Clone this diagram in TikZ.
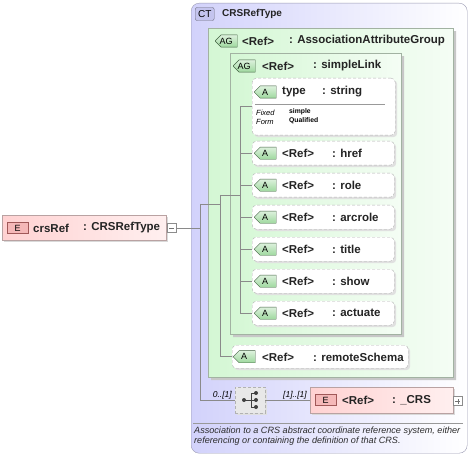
\documentclass[tikz,border=0pt]{standalone}
\usepackage{fontspec}
\setmainfont{Liberation Sans}
\usetikzlibrary{positioning,shapes.misc,shadows}

\definecolor{ctback}{HTML}{D2D2FB}
\definecolor{ctline}{HTML}{9A9AB2}
\definecolor{ctbadge}{HTML}{C4C4EE}
\definecolor{agback}{HTML}{D4F7D4}
\definecolor{agline}{HTML}{A2B2A2}
\definecolor{elback}{HTML}{FFD2D2}
\definecolor{elline}{HTML}{B9A2A2}
\definecolor{badgeE}{HTML}{F5B8B8}
\definecolor{badgeEline}{HTML}{A05858}
\definecolor{badgeA}{HTML}{9ED89E}
\definecolor{badgeAline}{HTML}{406040}
\definecolor{conn}{HTML}{8A8A8A}
\definecolor{dashline}{HTML}{B2B2B2}
\definecolor{doctext}{HTML}{2C2C2C}
\definecolor{lbltext}{HTML}{242424}

\begin{document}
\begin{tikzpicture}[x=1pt,y=-1pt,
    conn/.style={draw=conn,line width=0.8pt},
    lbl/.style={anchor=west,inner sep=0pt,text=lbltext,font=\fontsize{11.5}{13}\selectfont\bfseries},
    title/.style={anchor=west,inner sep=0pt,text=lbltext,font=\fontsize{10}{12}\selectfont\bfseries},
    ctbox/.style={draw=ctline,rounded corners=8pt,left color=ctback,right color=white,
      anchor=north west,inner sep=0pt},
    agbox/.style={chamfered rectangle,chamfered rectangle corners={north west,south west},
      chamfered rectangle xsep=5pt,chamfered rectangle ysep=5pt,draw=agline,
      left color=agback,right color=agback!25!white,anchor=north west,inner sep=0pt,
      general shadow={fill=black!22,shadow xshift=3pt,shadow yshift=-3pt}},
    attrbox/.style={draw=dashline,dash pattern=on 3pt off 2pt,rounded corners=4pt,fill=white,
      anchor=north west,inner sep=0pt,
      general shadow={fill=black!12,shadow xshift=2pt,shadow yshift=-2pt}},
    elbox/.style={draw=elline,left color=elback,right color=elback!35!white,
      anchor=north west,inner sep=0pt,
      general shadow={fill=black!15,shadow xshift=2pt,shadow yshift=-2pt}},
    seqbox/.style={draw=dashline,dash pattern=on 3pt off 2pt,fill=black!9,
      anchor=north west,inner sep=0pt,
      general shadow={fill=black!12,shadow xshift=2pt,shadow yshift=-2pt}},
    ebadge/.style={draw=badgeEline,fill=badgeE,minimum width=21pt,minimum height=11pt,
      inner sep=0pt,anchor=west,font=\fontsize{9}{9}\selectfont},
    abadge/.style={chamfered rectangle,chamfered rectangle corners={north west,south west},
      chamfered rectangle xsep=3pt,chamfered rectangle ysep=3pt,draw=badgeAline,
      top color=badgeA!35!white,bottom color=badgeA,minimum width=22pt,minimum height=11pt,
      inner sep=0pt,anchor=west,font=\fontsize{9}{9}\selectfont},
    ctbadge/.style={draw=ctline!70!black,fill=ctbadge,rounded corners=2pt,minimum width=19pt,
      minimum height=13pt,inner sep=0pt,anchor=west,font=\fontsize{10}{10}\selectfont},
    button/.style={draw=black!45,fill=white,minimum size=9pt,inner sep=0pt,anchor=west},
    sepline/.style={draw=black!40,line width=0.6pt},
    mult/.style={inner sep=0pt,anchor=east,font=\fontsize{8.5}{9}\selectfont\itshape},
    fixed/.style={inner sep=0pt,anchor=west,font=\fontsize{7.5}{8}\selectfont\itshape},
    fixval/.style={inner sep=0pt,anchor=west,font=\fontsize{6.8}{7}\selectfont\bfseries},
    doc/.style={inner sep=0pt,anchor=west,text=doctext,font=\fontsize{9.1}{10}\selectfont\itshape}]
    \useasboundingbox (0,0) rectangle (471,457);

    % complex type CRSRefType
    \node[ctbox,minimum width=276pt,minimum height=450pt] (ct) at (191,3) {};
    \node[ctbadge] (ct-b) at (195,14) {CT};
    \node[title] (ct-name) at (222,14) {CRSRefType};
    \draw[sepline] (193,423) -- (463,423);
    \node[doc] (doc1) at (194,431) {Association to a CRS abstract coordinate reference system, either};
    \node[doc] (doc2) at (194,441) {referencing or containing the definition of that CRS.};

    % attribute groups
    \node[agbox,minimum width=245pt,minimum height=349pt] (ag) at (208,28) {};
    \node[abadge] (ag-b) at (215,41) {AG};
    \node[lbl] (ag-ref) at (242,41) {<Ref>};
    \node[lbl] (ag-name) at (289,41) {: AssociationAttributeGroup};

    \node[agbox,minimum width=171pt,minimum height=281pt] (sl) at (230,53) {};
    \node[abadge] (sl-b) at (233,66) {AG};
    \node[lbl] (sl-ref) at (262,66) {<Ref>};
    \node[lbl] (sl-name) at (313,66) {: simpleLink};

    % attribute type with fixed value
    \node[attrbox,minimum width=143pt,minimum height=57pt] (type) at (252,78) {};
    \node[abadge] (type-b) at (254,92) {A};
    \node[lbl] (type-ref) at (282,92) {type};
    \node[lbl] (type-name) at (322,92) {: string};
    \draw[sepline] (255,104) -- (385,104);
    \node[fixed] (type-f1) at (256,113) {Fixed};
    \node[fixed] (type-f2) at (256,122) {Form};
    \node[fixval] (type-v1) at (289,112) {simple};
    \node[fixval] (type-v2) at (289,121) {Qualified};

    % the other simpleLink attributes
    \foreach \nm [count=\i from 0] in {href,role,arcrole,title,show,actuate}{
      \pgfmathsetmacro\yy{141+32*\i}
      \node[attrbox,minimum width=142pt,minimum height=24pt] (\nm) at (252,\yy) {};
      \node[abadge] (\nm-b) at ([xshift=2pt]\nm.west) {A};
      \node[lbl] (\nm-ref) at (282,\yy+12) {<Ref>};
      \node[lbl] (\nm-name) at (332,\yy+12) {: \nm};
    }

    \node[attrbox,minimum width=176pt,minimum height=23pt] (remote) at (232,345) {};
    \node[abadge] (remote-b) at ([xshift=1pt]remote.west) {A};
    \node[lbl] (remote-ref) at (262,357) {<Ref>};
    \node[lbl] (remote-name) at (313,357) {: remoteSchema};

    % element crsRef
    \node[elbox,minimum width=164pt,minimum height=25pt] (crsref) at (2,215) {};
    \node[ebadge] (crsref-b) at (7,228) {E};
    \node[lbl] (crsref-name) at (33,228) {crsRef};
    \node[lbl] (crsref-type) at (83,228) {: CRSRefType};
    \node[button] (minus) at (167,228) {};
    \draw[black!55] ([xshift=-2.5pt]minus.center) -- ([xshift=2.5pt]minus.center);

    % sequence and element _CRS
    \node[seqbox,minimum width=30pt,minimum height=26pt] (seq) at (235,387) {};
    \draw[black!75,line width=0.7pt] (244,400) -- (256,400) (251,393) -- (251,407)
      (251,393) -- (256,393) (251,407) -- (256,407);
    \foreach \p in {(244,400),(256,393),(256,400),(256,407)}
      \fill[black!75] \p circle (2);
    \node[mult] (m0) at (232,395) {0..[1]};
    \node[mult] (m1) at (307,395) {[1]..[1]};

    \node[elbox,minimum width=143pt,minimum height=26pt] (crs) at (310,387) {};
    \node[ebadge] (crs-b) at (315,400) {E};
    \node[lbl] (crs-ref) at (342,400) {<Ref>};
    \node[lbl] (crs-name) at (392,400) {: \_CRS};
    \node[button] (plus) at (453,401) {};
    \draw[black!55] ([xshift=-2.5pt]plus.center) -- ([xshift=2.5pt]plus.center)
      ([yshift=-2.5pt]plus.center) -- ([yshift=2.5pt]plus.center);

    % connectors
    \coordinate (j0) at (200,204);
    \coordinate (j1) at (220,195);
    \coordinate (j2) at (240,195);
    \draw[conn] (minus.east) -- (minus.east -| j0);
    \draw[conn] (j0) -- (j0 |- seq.west) -- (seq.west);
    \draw[conn] (seq.east) -- (crs.west);
    \draw[conn] (j0) -- (j0 -| j1);
    \draw[conn] (j1) -- (j1 |- remote.west) -- (remote.west);
    \draw[conn] (j1) -- (j2);
    \draw[conn] (j2 |- type.west) -- (j2 |- actuate.west);
    \draw[conn] (j2 |- type.west) -- (type.west);
    \foreach \nm in {href,role,arcrole,title,show,actuate}
      \draw[conn] (j2 |- \nm.west) -- (\nm.west);
\end{tikzpicture}
\end{document}
